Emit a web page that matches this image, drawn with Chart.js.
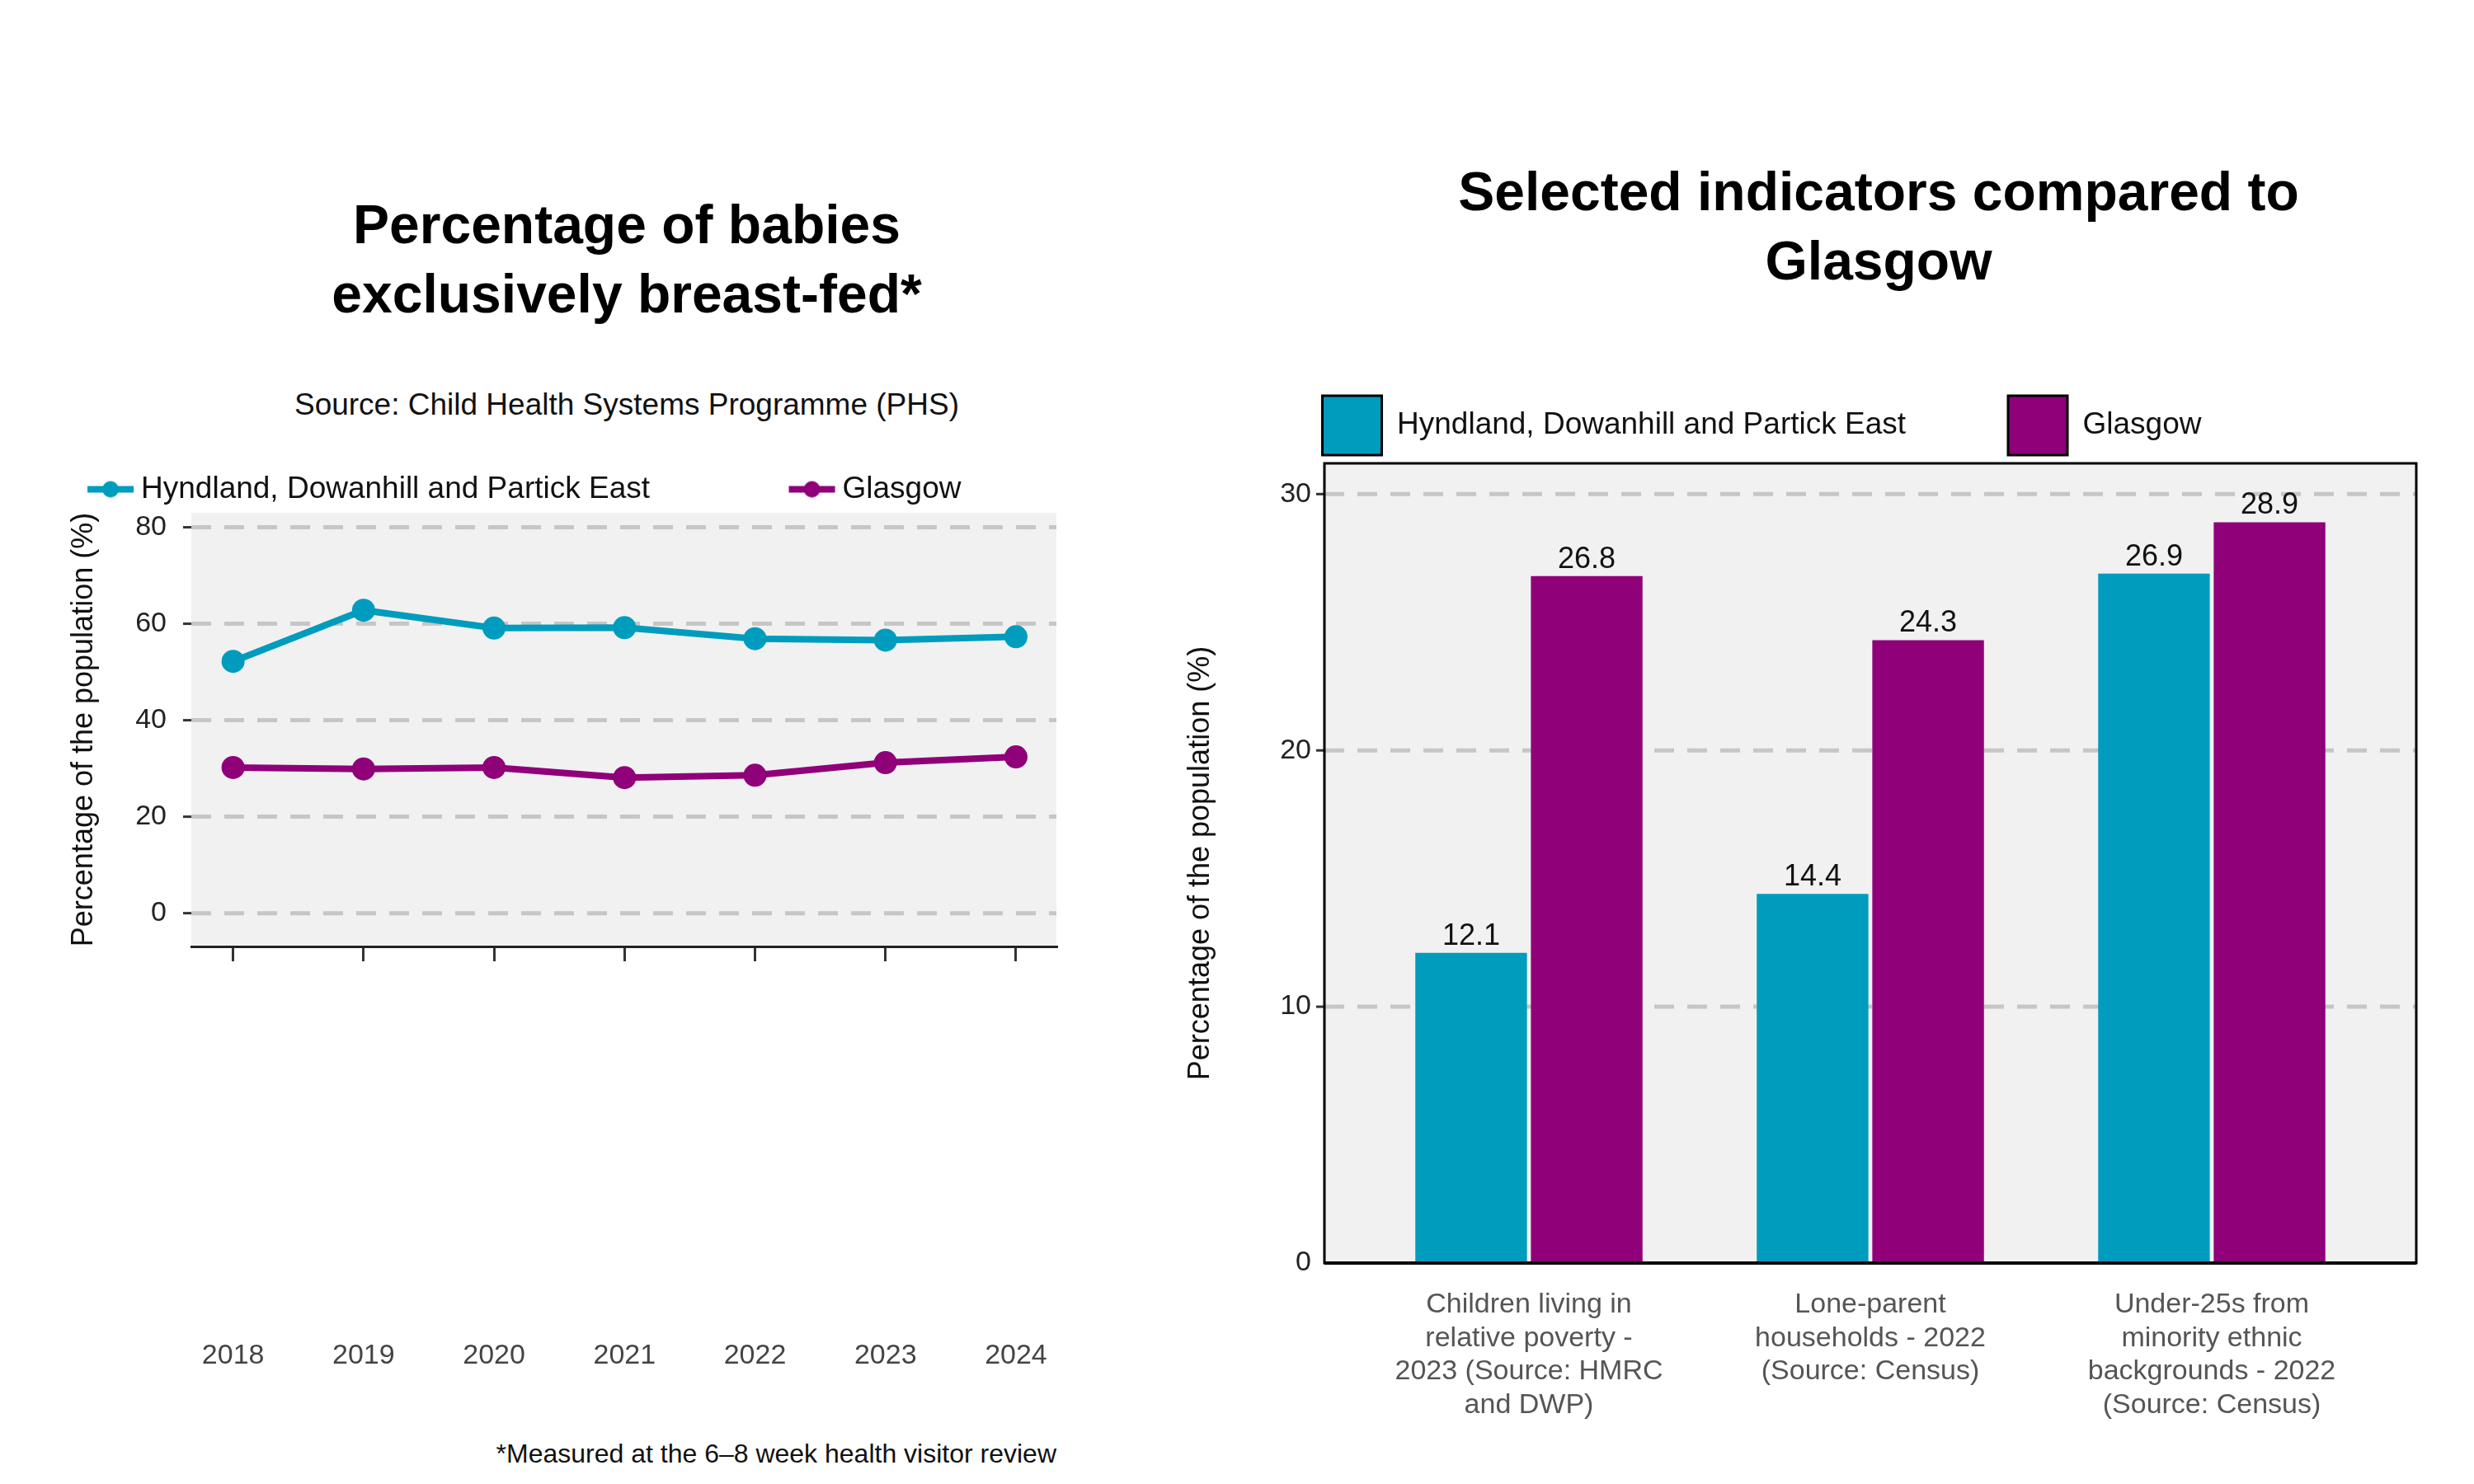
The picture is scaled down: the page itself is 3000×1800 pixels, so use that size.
<!DOCTYPE html>
<html><head><meta charset="utf-8">
<script src="https://cdn.jsdelivr.net/npm/chart.js@4/dist/chart.umd.min.js"></script>
<style>
body{margin:0;width:3000px;height:1800px;background:#fff;position:relative;font-family:"Liberation Sans",Arial,sans-serif;overflow:hidden}
.t{position:absolute;text-align:center;font-weight:bold;font-size:66px;line-height:84px;color:#000}
.s{position:absolute;font-size:37px;color:#111}
canvas{position:absolute}
</style></head><body>
<div class="t" style="left:260px;width:1000px;top:230px">Percentage of babies<br>exclusively breast-fed*</div>
<div class="s" style="left:260px;width:1000px;top:470px;text-align:center">Source: Child Health Systems Programme (PHS)</div>
<div class="s" style="left:281px;width:1000px;top:1745px;text-align:right;font-size:32px">*Measured at the 6–8 week health visitor review</div>
<div class="t" style="left:1678px;width:1200px;top:190px">Selected indicators compared to<br>Glasgow</div>
<div style="position:absolute;left:0;top:0;width:1450px;height:1800px"><canvas id="c1"></canvas></div>
<div style="position:absolute;left:1384px;top:0;width:1616px;height:1800px"><canvas id="c2"></canvas></div>
<script>
const years=[2018,2019,2020,2021,2022,2023,2024];
const hyndlandBF=[52.2,62.8,59.1,59.2,56.9,56.6,57.3];
const glasgowBF=[30.2,29.9,30.2,28.1,28.6,31.2,32.4];
const bfTicks=[0,20,40,60,80];
const indicators=[["Children living in","relative poverty -","2023 (Source: HMRC","and DWP)"],["Lone-parent","households - 2022","(Source: Census)"],["Under-25s from","minority ethnic","backgrounds - 2022","(Source: Census)"]];
const hyndlandInd=[12.1,14.4,26.9];
const glasgowInd=[26.8,24.3,28.9];
const indTicks=[0,10,20,30];
const TEAL='#009CBD',PURP='#8F0079';
const FONT='"Liberation Sans", Arial, sans-serif';

function lineIcon(col){const c=document.createElement('canvas');c.width=60;c.height=24;const g=c.getContext('2d');g.strokeStyle=col;g.lineWidth=8;g.beginPath();g.moveTo(2,12);g.lineTo(58,12);g.stroke();g.fillStyle=col;g.beginPath();g.arc(30,12,10,0,7);g.fill();return c;}
const icons=[lineIcon(TEAL),lineIcon(PURP)];

const panelBg={id:'pbg',beforeDraw(ch,a,o){const {ctx,chartArea:c}=ch;const e=o.ext||0;ctx.save();ctx.fillStyle='#f1f1f1';ctx.fillRect(c.left-e,c.top,c.right-c.left+2*e,c.bottom-c.top);
 if(o.grid){const y=ch.scales.y;ctx.strokeStyle='#c6c6c6';ctx.lineWidth=5;ctx.setLineDash([24,16]);o.grid.forEach(v=>{const p=y.getPixelForValue(v);ctx.beginPath();ctx.moveTo(c.left-e,p);ctx.lineTo(c.right+e,p);ctx.stroke();});
  ctx.setLineDash([]);ctx.strokeStyle='#333';ctx.lineWidth=3;o.grid.forEach(v=>{const p=y.getPixelForValue(v);ctx.beginPath();ctx.moveTo(c.left-e-10,p);ctx.lineTo(c.left-e,p);ctx.stroke();});}
 ctx.restore();},
 afterDraw(ch,a,o){const {ctx,chartArea:c}=ch;ctx.save();
  if(o.xlabels){const x=ch.scales.x;ctx.font='34px '+FONT;ctx.fillStyle='#444';ctx.textAlign='center';ctx.textBaseline='middle';o.xlabels.forEach(v=>ctx.fillText(String(v),x.getPixelForValue(v),o.xlabelY));}
  if(o.border){const e=o.ext||0;ctx.strokeStyle='#000';ctx.lineWidth=3;ctx.strokeRect(c.left-e,c.top,c.right-c.left+2*e,c.bottom-c.top);ctx.lineWidth=4;ctx.beginPath();ctx.moveTo(c.left-e,c.bottom);ctx.lineTo(c.right+e,c.bottom);ctx.stroke();}
  ctx.restore();}};

const barLabels={id:'blab',afterDatasetsDraw(ch){const ctx=ch.ctx;ctx.save();ctx.font='36px '+FONT;ctx.fillStyle='#111';ctx.textAlign='center';ctx.textBaseline='bottom';
 ch.data.datasets.forEach((d,i)=>{ch.getDatasetMeta(i).data.forEach((b,j)=>{ctx.fillText(d.data[j].toFixed(1),b.x,b.y-2);});});ctx.restore();}};

new Chart(document.getElementById('c1'),{type:'line',
 data:{datasets:[
  {label:'Hyndland, Dowanhill and Partick East',data:years.map((y,i)=>({x:y,y:hyndlandBF[i]})),borderColor:TEAL,backgroundColor:TEAL,borderWidth:8,pointRadius:10,pointHoverRadius:10},
  {label:'Glasgow',data:years.map((y,i)=>({x:y,y:glasgowBF[i]})),borderColor:PURP,backgroundColor:PURP,borderWidth:8,pointRadius:10,pointHoverRadius:10}]},
 plugins:[panelBg],
 options:{responsive:true,maintainAspectRatio:false,animation:false,
  layout:{padding:{top:545,right:169,left:0,bottom:0}},
  plugins:{tooltip:{enabled:false},pbg:{grid:bfTicks,xlabels:years,xlabelY:1645},
   legend:{labels:{font:{size:37,family:FONT},color:'#111',usePointStyle:true,padding:30,
    generateLabels(ch){return Chart.defaults.plugins.legend.labels.generateLabels(ch).map((l,i)=>Object.assign(l,{pointStyle:icons[i],text:l.text+(i===0?'\u2003\u2003\u2003\u2003':'')}));}}}},
  scales:{
   x:{type:'linear',min:2017.68,max:2024.31,afterBuildTicks:s=>{s.ticks=years.map(v=>({value:v}));},
    ticks:{callback:()=>'',padding:0,maxRotation:0},
    grid:{drawOnChartArea:false,tickLength:18,color:'#333',lineWidth:3},border:{color:'#222',width:3},
    afterFit:s=>{s.height=1800-1148;}},
   y:{min:-6.9,max:83,afterBuildTicks:s=>{s.ticks=bfTicks.map(v=>({value:v}));},
    ticks:{font:{size:34,family:FONT},color:'#222',padding:22},
    grid:{display:false},border:{display:false},
    title:{display:true,text:'Percentage of the population (%)',font:{size:36,family:FONT},color:'#111',padding:{top:80,bottom:0}},
    afterFit:s=>{s.width=232;}}}}});

new Chart(document.getElementById('c2'),{type:'bar',
 data:{labels:indicators,datasets:[
  {label:'Hyndland, Dowanhill and Partick East',data:hyndlandInd,backgroundColor:TEAL,categoryPercentage:0.677,barPercentage:0.966},
  {label:'Glasgow',data:glasgowInd,backgroundColor:PURP,categoryPercentage:0.677,barPercentage:0.966}]},
 plugins:[panelBg,barLabels],
 options:{responsive:true,maintainAspectRatio:false,animation:false,
  layout:{padding:{top:430,right:111,left:0,bottom:0}},
  plugins:{tooltip:{enabled:false},pbg:{grid:indTicks.slice(1),ext:41,border:true},
   legend:{labels:{font:{size:37,family:FONT},color:'#111',boxWidth:72,boxHeight:72,padding:50,
    generateLabels(ch){return Chart.defaults.plugins.legend.labels.generateLabels(ch).map((l,i)=>Object.assign(l,{strokeStyle:'#000',lineWidth:3,text:l.text+(i===0?'\u2003\u2003':'')}));}}}},
  scales:{
   x:{ticks:{font:{size:34,family:FONT},color:'#555',padding:22,maxRotation:0},grid:{display:false},border:{display:false},
    afterFit:s=>{s.height=1800-1532;}},
   y:{min:0,max:31.2,afterBuildTicks:s=>{s.ticks=indTicks.map(v=>({value:v}));},
    ticks:{font:{size:34,family:FONT},color:'#222',padding:57},
    grid:{display:false,drawTicks:false},border:{display:false},
    title:{display:true,text:'Percentage of the population (%)',font:{size:36,family:FONT},color:'#111',padding:{top:50,bottom:0}},
    afterFit:s=>{s.width=263;}}}}});
</script></body></html>
